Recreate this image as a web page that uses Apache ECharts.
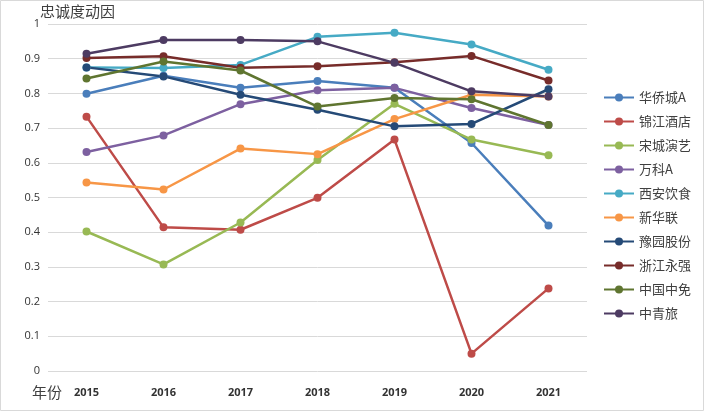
<!DOCTYPE html>
<html><head><meta charset="utf-8">
<script src="https://cdn.jsdelivr.net/npm/echarts@6/dist/echarts.min.js"></script>
<style>html,body{margin:0;padding:0;background:#fff}#c{width:705px;height:412px}</style>
</head><body><div id="c"></div>
<script>
const years = ['2015','2016','2017','2018','2019','2020','2021'];
const seriesNames = ['华侨城A','锦江酒店','宋城演艺','万科A','西安饮食','新华联','豫园股份','浙江永强','中国中免','中青旅'];
const huaqiaocheng = [0.799,0.851,0.816,0.836,0.816,0.657,0.419];
const jinjiang = [0.733,0.414,0.407,0.499,0.667,0.050,0.238];
const songcheng = [0.402,0.307,0.428,0.608,0.770,0.667,0.622];
const wanke = [0.631,0.679,0.769,0.809,0.816,0.758,0.709];
const xian = [0.875,0.873,0.882,0.963,0.975,0.941,0.868];
const xinhualian = [0.543,0.523,0.641,0.625,0.726,0.796,0.791];
const yuyuan = [0.875,0.849,0.796,0.753,0.705,0.712,0.812];
const zhejiang = [0.902,0.907,0.874,0.878,0.890,0.908,0.837];
const zhongmian = [0.843,0.892,0.866,0.762,0.787,0.783,0.709];
const zhongqinglv = [0.914,0.954,0.954,0.950,0.888,0.806,0.791];
const yTicks = [0,0.1,0.2,0.3,0.4,0.5,0.6,0.7,0.8,0.9,1];

const allData = [huaqiaocheng,jinjiang,songcheng,wanke,xian,xinhualian,yuyuan,zhejiang,zhongmian,zhongqinglv];
const colors = ['#4a7ebb','#be4b48','#98b954','#7d60a0','#46aac5','#f79646','#254a77','#772c2a','#5f7530','#4d3b62'];

const chart = echarts.init(document.getElementById('c'));
chart.setOption({
  animation:false,
  color: colors,
  graphic:[{type:'rect',shape:{x:0.5,y:0.5,width:703,height:410},style:{fill:'none',stroke:'#d9d9d9',lineWidth:1}}],
  grid:{left:48,right:118,top:24,bottom:41,containLabel:false,outerBoundsMode:'none'},
  legend:{
    orient:'vertical', left:598, top:86, itemGap:11, itemWidth:30, itemHeight:10,
    textStyle:{fontFamily:'Noto Sans CJK SC',fontSize:13,color:'#404040'},
    data: seriesNames
  },
  xAxis:{
    type:'category', data:years, boundaryGap:true,
    name:'年份', nameLocation:'start', nameGap:-14,
    nameTextStyle:{fontFamily:'Noto Sans CJK SC',fontSize:15,color:'#404040',padding:[14,0,0,0],verticalAlign:'top'},
    axisLine:{show:false}, axisTick:{show:false},
    axisLabel:{fontFamily:'Open Sans',fontSize:11,fontWeight:'bold',color:'#333',margin:16}
  },
  yAxis:{
    type:'value', min:0, max:1, interval:0.1,
    name:'忠诚度动因', nameLocation:'end', nameGap:7,
    nameTextStyle:{fontFamily:'Noto Sans CJK SC',fontSize:15,color:'#404040',align:'left',verticalAlign:'middle',padding:[0,0,0,-8]},
    axisLine:{show:false}, axisTick:{show:false},
    splitLine:{lineStyle:{color:'#d9d9d9',width:1}},
    axisLabel:{fontFamily:'Open Sans',fontSize:11,color:'#333',margin:8,
      formatter:v=>{const t=yTicks.find(x=>Math.abs(x-v)<1e-6);return t===undefined?'':String(t);}}
  },
  series: seriesNames.map((n,i)=>({
    name:n, type:'line', data:allData[i], symbol:'circle', symbolSize:8,
    lineStyle:{width:2.5}, itemStyle:{color:colors[i]}
  }))
});
</script></body></html>
